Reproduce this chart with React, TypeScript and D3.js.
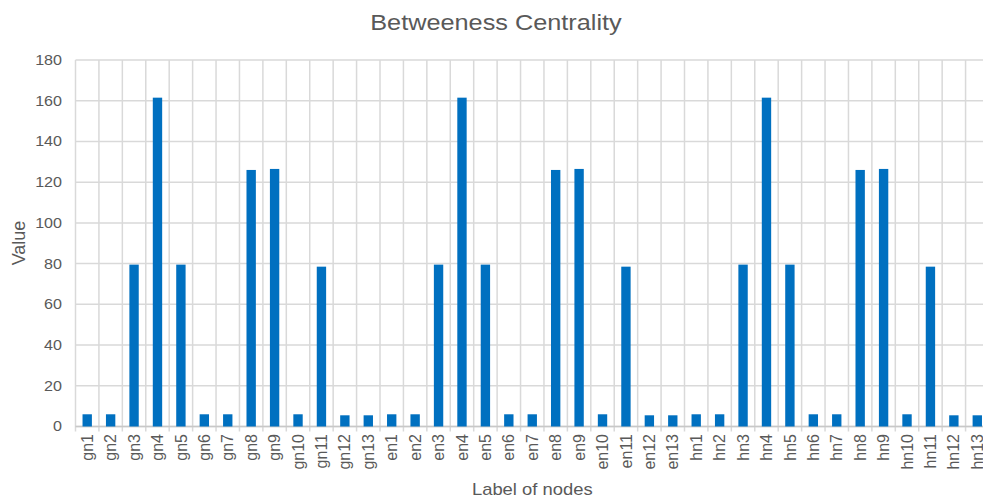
import { scaleBand, scaleLinear } from "d3";

const gnLabels = ["gn1", "gn2", "gn3", "gn4", "gn5", "gn6", "gn7", "gn8", "gn9", "gn10", "gn11", "gn12", "gn13"];
const enLabels = ["en1", "en2", "en3", "en4", "en5", "en6", "en7", "en8", "en9", "en10", "en11", "en12", "en13"];
const hnLabels = ["hn1", "hn2", "hn3", "hn4", "hn5", "hn6", "hn7", "hn8", "hn9", "hn10", "hn11", "hn12", "hn13"];

const gnValues = [6, 6, 79.5, 161.5, 79.5, 6, 6, 126, 126.5, 6, 78.5, 5.5, 5.5];
const enValues = [6, 6, 79.5, 161.5, 79.5, 6, 6, 126, 126.5, 6, 78.5, 5.5, 5.5];
const hnValues = [6, 6, 79.5, 161.5, 79.5, 6, 6, 126, 126.5, 6, 78.5, 5.5, 5.5];

const yTicks = [0, 20, 40, 60, 80, 100, 120, 140, 160, 180];

const categories = [...gnLabels, ...enLabels, ...hnLabels];
const values = [...gnValues, ...enValues, ...hnValues];
const data = categories.map((label, i) => ({ label, value: values[i] }));

const W = 983;
const H = 498;
const font = "'Liberation Sans', Arial, sans-serif";
const textColor = "#595959";
const gridColor = "#d9d9d9";
// the reference looks a bit stretched sideways
const sx = 1.15;

export default function App() {
  const left = 75.5;
  const right = 989;
  const top = 60;
  const bottom = 426.5;

  const xSlot = scaleBand().domain(categories).range([left, right]).padding(0);
  const xBar = scaleBand()
    .domain(categories)
    .range([left, right])
    .paddingInner(0.6)
    .paddingOuter(0.3);
  const y = scaleLinear().domain([0, 180]).range([bottom, top]);

  return (
    <svg
      width={W}
      height={H}
      style={{ position: "absolute", left: 0, top: 0, background: "#fff" }}
      fontFamily={font}
    >
      <rect width={W} height={H} fill="#fff" />
      {/* horizontal grid */}
      {yTicks.map((t) => (
        <line
          key={"h" + t}
          x1={left}
          x2={right}
          y1={y(t)}
          y2={y(t)}
          stroke={gridColor}
          strokeWidth={1.5}
        />
      ))}
      {/* vertical grid at slot edges */}
      {categories.map((c) => (
        <line
          key={"v" + c}
          x1={xSlot(c)!}
          x2={xSlot(c)!}
          y1={top}
          y2={bottom + 5}
          stroke={gridColor}
          strokeWidth={1.5}
        />
      ))}
      <line x1={right} x2={right} y1={top} y2={bottom} stroke={gridColor} strokeWidth={1.5} />
      <line x1={left} x2={right} y1={bottom} y2={bottom} stroke="#c8c8c8" strokeWidth={1.5} />

      {data.map((d) => (
        <rect
          key={"b" + d.label}
          x={xBar(d.label)!}
          y={y(d.value)}
          width={xBar.bandwidth()}
          height={bottom - y(d.value)}
          fill="#0070c0"
        />
      ))}

      {yTicks.map((t) => (
        <text
          key={"yt" + t}
          transform={`translate(62,${y(t)}) scale(${sx},1)`}
          dy="0.35em"
          textAnchor="end"
          fontSize={14}
          fill={textColor}
        >
          {t}
        </text>
      ))}

      {categories.map((c) => {
        const cx = xSlot(c)! + xSlot.bandwidth() / 2;
        return (
          <text
            key={"xt" + c}
            transform={`translate(${cx},${434}) rotate(-90)`}
            dy="0.35em"
            textAnchor="end"
            fontSize={16}
            fill={textColor}
          >
            {c}
          </text>
        );
      })}

      <text
        transform={`translate(496,30) scale(${sx},1)`}
        textAnchor="middle"
        fontSize={22}
        fill={textColor}
      >
        Betweeness Centrality
      </text>
      <text
        transform={`translate(25,243) rotate(-90)`}
        textAnchor="middle"
        fontSize={18}
        fill={textColor}
      >
        Value
      </text>
      <text
        transform={`translate(${(left + right) / 2},494.5) scale(${sx},1)`}
        textAnchor="middle"
        fontSize={16}
        fill={textColor}
      >
        Label of nodes
      </text>
    </svg>
  );
}
